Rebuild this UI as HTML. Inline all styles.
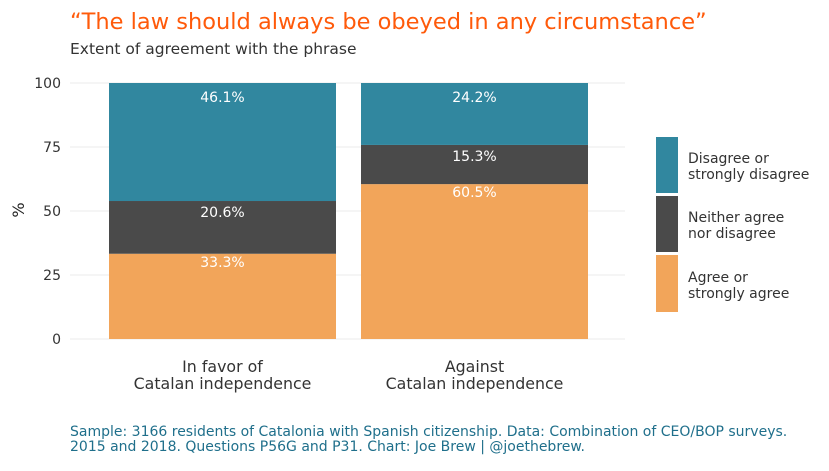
<!DOCTYPE html>
<html><head><meta charset="utf-8"><style>
body{margin:0;background:#fff;}
svg text{font-family:"DejaVu Sans","Liberation Sans",sans-serif;}
</style></head><body>
<svg id="chart" width="829" height="466" xmlns="http://www.w3.org/2000/svg">
<text x="70" y="29" font-size="22.5" fill="#ff5a0a">“The law should always be obeyed in any circumstance”</text>
<text x="70" y="54" font-size="15.5" fill="#333">Extent of agreement with the phrase</text>
<g id="grid"></g><g id="bars"></g><g id="labels"></g>
<text transform="translate(24,210) rotate(-90)" text-anchor="middle" font-size="16" fill="#222">%</text>
<g>
<rect x="656" y="137" width="22" height="56" fill="#31879f"/>
<rect x="656" y="196" width="22" height="56" fill="#4a4a4a"/>
<rect x="656" y="255" width="22" height="57" fill="#f2a55a"/>
<text x="688" y="163" font-size="14" fill="#333"><tspan x="688">Disagree or</tspan><tspan x="688" dy="16">strongly disagree</tspan></text>
<text x="688" y="222" font-size="14" fill="#333"><tspan x="688">Neither agree</tspan><tspan x="688" dy="16">nor disagree</tspan></text>
<text x="688" y="282" font-size="14" fill="#333"><tspan x="688">Agree or</tspan><tspan x="688" dy="16">strongly agree</tspan></text>
</g>
<text font-size="14" fill="#1f6f8b"><tspan x="70" y="436">Sample: 3166 residents of Catalonia with Spanish citizenship. Data: Combination of CEO/BOP surveys.</tspan><tspan x="70" y="451">2015 and 2018. Questions P56G and P31. Chart: Joe Brew | @joethebrew.</tspan></text>
</svg>
<script>
const categories=[["In favor of","Catalan independence"],["Against","Catalan independence"]];
const agree=[33.3,60.5];
const neither=[20.6,15.3];
const disagree=[46.1,24.2];
const yTicks=[0,25,50,75,100];
const NS="http://www.w3.org/2000/svg";
const x0=70,x1=625,y0=339,y1=83;
const y=v=>y0-(v/100)*(y0-y1);
const bw=227;
function mk(tag,attrs,parent){const e=document.createElementNS(NS,tag);for(const k in attrs)e.setAttribute(k,attrs[k]);parent.appendChild(e);return e;}
const grid=document.getElementById('grid');
yTicks.forEach(t=>{
 const l=mk('line',{x1:x0,x2:x1,y1:y(t),y2:y(t),stroke:'#ebebeb','stroke-width':1},grid);
 
 
 const tx=mk('text',{x:61,y:y(t)+5,'text-anchor':'end','font-size':14,fill:'#333'},grid);
 tx.textContent=t;
 
 
});
const bars=document.getElementById('bars'),labels=document.getElementById('labels');
categories.forEach((c,i)=>{
 const cx=222.5+i*252;
 const segs=[[agree[i],'#f2a55a','agree',13],[neither[i],'#4a4a4a','neither',16],[disagree[i],'#31879f','disagree',19]];
 let base=0;
 segs.forEach(([v,col,nm,off])=>{
  const top=base+v;
  const r=mk('rect',{x:cx-bw/2,y:y(top),width:bw,height:y(base)-y(top),fill:col},bars);
  
  
  const t=mk('text',{x:cx,y:y(top)+off,'text-anchor':'middle','font-size':14,fill:'#fff','font-family':'Liberation Sans, sans-serif'},labels);
  t.textContent=v.toFixed(1)+'%';
  
  
  base=top;
 });
 const ct=mk('text',{'text-anchor':'middle','font-size':15.8,fill:'#333'},labels);
 
 
 c.forEach((line,j)=>{const ts=mk('tspan',{x:cx,y:372+j*17},ct);ts.textContent=line;});
});
</script>
</body></html>
